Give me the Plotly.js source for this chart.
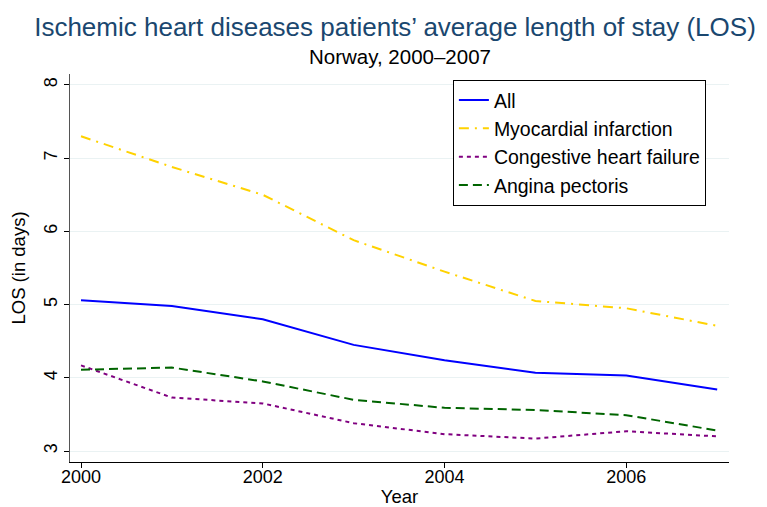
<!DOCTYPE html>
<html><head><meta charset="utf-8">
<script src="https://cdn.plot.ly/plotly-3.0.1.min.js"></script>
<style>html,body{margin:0;padding:0;background:#fff}#chart{width:767px;height:507px}</style>
</head><body><div id="chart"></div>
<script>
const years = [2000, 2001, 2002, 2003, 2004, 2005, 2006, 2007];
const losAll = [5.06, 4.98, 4.80, 4.45, 4.24, 4.07, 4.03, 3.84];
const losMI = [7.30, 6.88, 6.50, 5.88, 5.45, 5.05, 4.95, 4.71];
const losCHF = [4.17, 3.73, 3.65, 3.38, 3.23, 3.17, 3.27, 3.20];
const losAP = [4.11, 4.14, 3.95, 3.70, 3.59, 3.56, 3.49, 3.28];
const seriesNames = ["All", "Myocardial infarction", "Congestive heart failure", "Angina pectoris"];
const xTicks = [2000, 2002, 2004, 2006];
const yTicks = [3, 4, 5, 6, 7, 8];

const font = "Liberation Sans, Arial, Helvetica, sans-serif";
const traces = [
  {x: years, y: losAll, name: seriesNames[0], mode: "lines", line: {color: "#0000ff", width: 2}},
  {x: years, y: losMI, name: seriesNames[1], mode: "lines", line: {color: "#ffd200", width: 2, dash: "10px,6px,2px,6px"}},
  {x: years, y: losCHF, name: seriesNames[2], mode: "lines", line: {color: "#800080", width: 2, dash: "4px,4px"}},
  {x: years, y: losAP, name: seriesNames[3], mode: "lines", line: {color: "#006400", width: 2, dash: "9px,5px"}}
];
const layout = {
  width: 767, height: 507,
  margin: {l: 70, r: 38, t: 74, b: 45},
  paper_bgcolor: "#fff", plot_bgcolor: "#fff",
  font: {family: font, color: "#000", size: 18},
  title: {text: "Ischemic heart diseases patients\u2019 average length of stay (LOS)", font: {size: 26, color: "#1a476f"}, x: 0.515, xanchor: "center", y: 0.947, yanchor: "middle", yref: "container"},
  annotations: [{text: "Norway, 2000\u20132007", xref: "paper", yref: "paper", x: 0.5, y: 1.044, xanchor: "center", yanchor: "middle", showarrow: false, font: {size: 20.5, color: "#000"}}],
  xaxis: {range: [1999.879, 2007.13], tickvals: xTicks, ticktext: xTicks.map(String), ticks: "outside", ticklen: 5, tickcolor: "#000", ticklabelstandoff: -7, showline: true, linecolor: "#000", linewidth: 1, showgrid: false, zeroline: false, title: {text: "Year", font: {size: 18.5}, standoff: 9}, tickfont: {size: 18}},
  yaxis: {range: [2.85, 8.15], tickvals: yTicks, ticktext: yTicks.map(String), tickangle: -90, ticks: "outside", ticklen: 5, tickcolor: "#000", showline: true, linecolor: "#555", linewidth: 1, showgrid: true, gridcolor: "#eaf2f3", gridwidth: 1, zeroline: false, title: {text: "LOS (in days)", font: {size: 18.5}, standoff: 10}, tickfont: {size: 18}},
  legend: {x: 0.581, y: 0.985, xanchor: "left", yanchor: "top", bordercolor: "#000", borderwidth: 1, bgcolor: "#fff", font: {size: 19.5}, tracegroupgap: 0, itemwidth: 30},
  showlegend: true
};
Plotly.newPlot("chart", traces, layout, {displayModeBar: false, staticPlot: true});
</script>
</body></html>
